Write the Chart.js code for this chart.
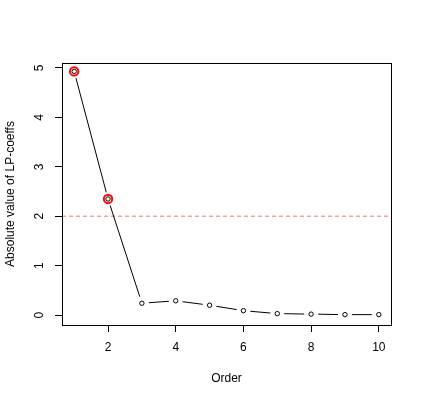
<!DOCTYPE html>
<html>
<head>
<meta charset="utf-8">
<script src="https://cdn.jsdelivr.net/npm/chart.js@4/dist/chart.umd.min.js"></script>
<style>
  html, body { margin: 0; padding: 0; background: #fff; }
  #wrap { width: 423px; height: 403px; position: relative; }
</style>
</head>
<body>
<div id="wrap"><canvas id="c" width="423" height="403"></canvas></div>
<script>
// ---- data ----
const orders = [1, 2, 3, 4, 5, 6, 7, 8, 9, 10];
const absCoeffs = [4.93, 2.35, 0.24, 0.29, 0.20, 0.09, 0.03, 0.02, 0.01, 0.01];
const highlighted = [1, 2];          // orders flagged in red
const threshold = 2;
const xTicks = [2, 4, 6, 8, 10];
const yTicks = [0, 1, 2, 3, 4, 5];
const xRange = [0.64, 10.36];
const yRange = [-0.2, 5.1];
const xTitle = 'Order';
const yTitle = 'Absolute value of LP-coeffs';

const pts = orders.map((o, i) => ({ x: o, y: absCoeffs[i] }));
const hiPts = pts.filter(p => highlighted.includes(p.x));
const hLine = [{ x: xRange[0], y: threshold }, { x: xRange[1], y: threshold }];

const FONT = { family: 'Liberation Sans, Arial, sans-serif', size: 12 };

const boxPlugin = {
  id: 'rbox',
  afterDraw(chart) {
    const ctx = chart.ctx, a = chart.chartArea;
    const ys = chart.scales.y;
    ctx.save();
    ctx.strokeStyle = '#000';
    ctx.lineWidth = 1;
    ctx.strokeRect(Math.round(a.left) + 0.5, Math.round(a.top) + 0.5,
                   Math.round(a.right - a.left), Math.round(a.bottom - a.top));
    ctx.fillStyle = '#000';
    ctx.font = FONT.size + 'px ' + FONT.family;
    ctx.textAlign = 'center';
    ctx.textBaseline = 'middle';
    yTicks.forEach(v => {
      const py = ys.getPixelForValue(v);
      ctx.save();
      ctx.translate(a.left - 22.5, py);
      ctx.rotate(-Math.PI / 2);
      ctx.fillText(String(v), 0, 0);
      ctx.restore();
    });
    ctx.restore();
  }
};

new Chart(document.getElementById('c'), {
  type: 'line',
  data: {
    datasets: [
      { // red highlight circles (top)
        data: hiPts, showLine: false,
        pointRadius: 4.2, pointBorderWidth: 2,
        pointBorderColor: '#ff0000', pointBackgroundColor: 'rgba(0,0,0,0)'
      },
      { // open black circles
        data: pts, showLine: false,
        pointRadius: 2.2, pointBorderWidth: 1,
        pointBorderColor: '#000', pointBackgroundColor: 'rgba(0,0,0,0)'
      },
      { // white gaps around points (type="b")
        data: pts, showLine: false,
        pointRadius: 7, pointBorderWidth: 0,
        pointBorderColor: '#fff', pointBackgroundColor: '#fff'
      },
      { // connecting line
        data: pts, borderColor: '#000', borderWidth: 1,
        pointRadius: 0, tension: 0, fill: false
      },
      { // threshold line
        data: hLine, borderColor: 'rgba(225,70,70,0.5)', borderWidth: 1.3,
        borderDash: [4, 3], pointRadius: 0, fill: false
      }
    ]
  },
  options: {
    responsive: false,
    animation: false,
    events: [],
    layout: { padding: { left: 0, top: 63, right: 32, bottom: 0 } },
    plugins: { legend: { display: false }, tooltip: { enabled: false } },
    scales: {
      x: {
        type: 'linear', position: 'bottom',
        min: xRange[0], max: xRange[1],
        afterBuildTicks: s => { s.ticks = xTicks.map(v => ({ value: v })); },
        afterFit: s => { s.height = 78; },
        grid: { drawOnChartArea: false, drawTicks: true, tickLength: 7, color: '#000', lineWidth: 1 },
        border: { display: false },
        ticks: { color: '#000', font: FONT, padding: 8, maxRotation: 0, autoSkip: false },
        title: { display: true, text: xTitle, color: '#000', font: FONT, padding: { top: 0, bottom: 17 } }
      },
      y: {
        type: 'linear', position: 'left',
        min: yRange[0], max: yRange[1],
        afterBuildTicks: s => { s.ticks = yTicks.map(v => ({ value: v })); },
        afterFit: s => { s.width = 62; },
        grid: { drawOnChartArea: false, drawTicks: true, tickLength: 7, color: '#000', lineWidth: 1 },
        border: { display: false },
        ticks: { display: false },
        title: { display: true, text: yTitle, color: '#000', font: FONT, padding: { top: 3, bottom: 0 } }
      }
    }
  },
  plugins: [boxPlugin]
});
</script>
</body>
</html>
